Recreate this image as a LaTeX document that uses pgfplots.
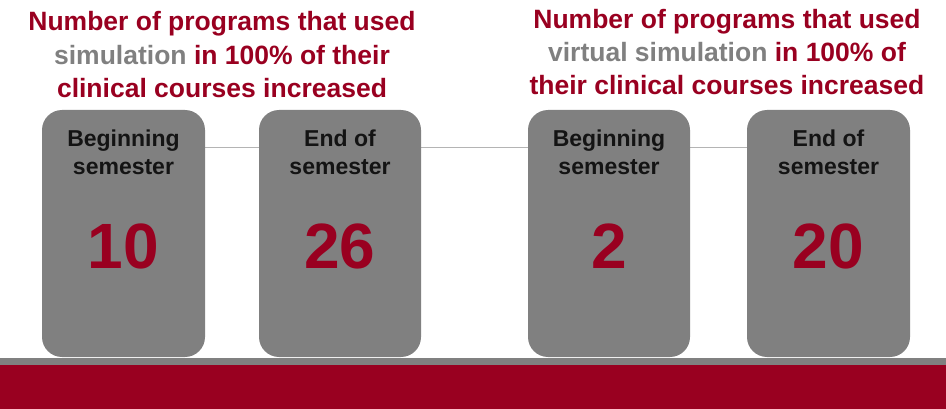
\documentclass[border=0pt]{standalone}
\usepackage{fontspec}
\setmainfont{Liberation Sans}
\usepackage{pgfplots}
\pgfplotsset{compat=1.18}
\usepackage{pgfplotstable}

\definecolor{darkred}{HTML}{990020}
\definecolor{boxgray}{HTML}{808080}
\definecolor{linegray}{HTML}{B4B4B4}

% box centre (x), baseline of the number (y, from top), value
\pgfplotstableread{
x      y    v
123.5  268  10
340    268  26
609    268  2
828.5  268  20
}\counts

\begin{document}
\begin{tikzpicture}
\begin{axis}[
    name=main,
    scale only axis,
    width=946pt, height=409pt,
    xmin=0, xmax=946, ymin=0, ymax=409,
    y dir=reverse,
    hide axis,
    clip=false,
]
% bottom bands
\fill[boxgray] (axis cs:0,358) rectangle (axis cs:946,365);
\fill[darkred] (axis cs:0,365) rectangle (axis cs:946,409);

% connector
\draw[linegray, line width=1pt] (axis cs:205,148) -- (axis cs:747,148);

% boxes
\fill[boxgray, rounded corners=20pt] (axis cs:42,110) rectangle (axis cs:205,357);
\fill[boxgray, rounded corners=20pt] (axis cs:259,110) rectangle (axis cs:421,357);
\fill[boxgray, rounded corners=20pt] (axis cs:528,110) rectangle (axis cs:690,357);
\fill[boxgray, rounded corners=20pt] (axis cs:747,110) rectangle (axis cs:910,357);

% box headers
\tikzset{hdr/.style={anchor=base, inner sep=0pt, font=\bfseries\fontsize{23}{28}\selectfont, text=black!92}}
\node[hdr] at (axis cs:123.5,147) {Beginning};
\node[hdr] at (axis cs:123.5,175) {semester};
\node[hdr] at (axis cs:340,147) {End of};
\node[hdr] at (axis cs:340,175) {semester};
\node[hdr] at (axis cs:609,147) {Beginning};
\node[hdr] at (axis cs:609,175) {semester};
\node[hdr] at (axis cs:828.5,147) {End of};
\node[hdr] at (axis cs:828.5,175) {semester};

% numbers
\addplot[draw=none, mark=none,
    nodes near coords,
    point meta=explicit symbolic,
    nodes near coords align={anchor=base},
    every node near coord/.append style={font=\bfseries\fontsize{64}{70}\selectfont, text=darkred, inner sep=0pt},
] table[x=x, y=y, meta=v] {\counts};

% titles
\tikzset{ttl/.style={anchor=base, inner sep=0pt, font=\bfseries\fontsize{26.5}{33}\selectfont, text=darkred}}
\node[ttl] at (axis cs:222,30.7) {Number of programs that used};
\node[ttl] at (axis cs:222,65) {\textcolor{boxgray}{simulation} in 100\% of their};
\node[ttl] at (axis cs:222,98) {clinical courses increased};

\node[ttl] at (axis cs:727,28.3) {Number of programs that used};
\node[ttl] at (axis cs:727,61.7) {\textcolor{boxgray}{virtual simulation} in 100\% of};
\node[ttl] at (axis cs:727,95) {their clinical courses increased};
\end{axis}
\pgfresetboundingbox
\path[use as bounding box] (main.south west) rectangle (main.north east);
\end{tikzpicture}
\end{document}
